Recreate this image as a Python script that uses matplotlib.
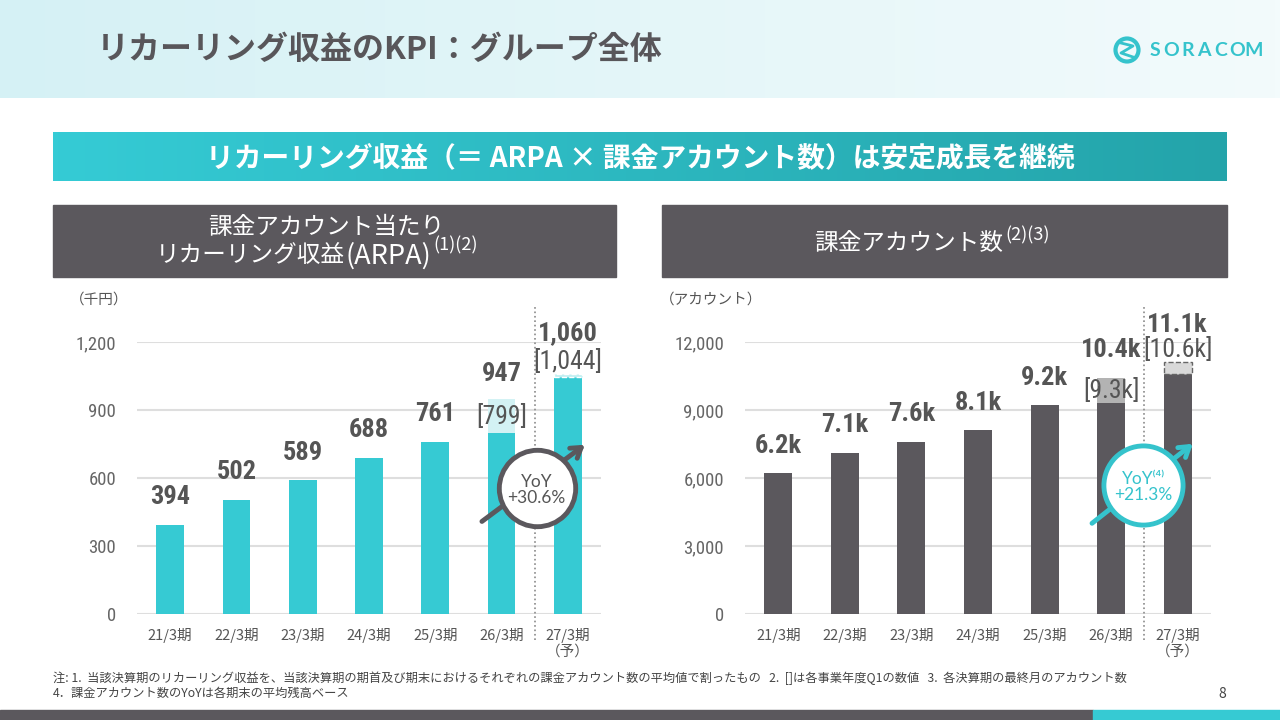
import os
import numpy as np
import matplotlib
matplotlib.use("Agg")
import matplotlib.pyplot as plt
from matplotlib import font_manager as fm
from matplotlib.patches import Rectangle, Circle

# ---- data ----
periods = ["21/3期", "22/3期", "23/3期", "24/3期", "25/3期", "26/3期", "27/3期\n（予）"]
arpa = [394, 502, 589, 688, 761, 947, 1060]            # 千円, fiscal year
arpa_q1 = [None, None, None, None, None, 799, 1044]     # Q1 value in brackets
arpa_text = ["394", "502", "589", "688", "761", "947", "1,060"]
arpa_q1_text = [None, None, None, None, None, "[799]", "[1,044]"]
accounts = [6200, 7100, 7600, 8100, 9200, 10400, 11100]
accounts_q1 = [None, None, None, None, None, 9300, 10600]
accounts_text = ["6.2k", "7.1k", "7.6k", "8.1k", "9.2k", "10.4k", "11.1k"]
accounts_q1_text = [None, None, None, None, None, "[9.3k]", "[10.6k]"]
arpa_ticks = [0, 300, 600, 900, 1200]
acct_ticks = [0, 3000, 6000, 9000, 12000]
yoy_arpa = "YoY\n+30.6%"
yoy_acct = "YoY⁽⁴⁾\n+21.3%"

TEAL = "#36cad3"
TEAL_LT = "#d3f2f4"
DARK = "#5b585d"
GRAY_LT = "#b3b3b3"
TXT = "#555555"
CYAN_TXT = "#35c3cc"

JP = ["Noto Sans CJK JP", "DejaVu Sans"]
plt.rcParams["font.family"] = JP

# condensed font for the numbers, whichever is installed
STRETCH_RANK = {"condensed": 0, "semi-condensed": 1, "extra-condensed": 2}
FAM_ORDER = ["Roboto Condensed", "Liberation Sans Narrow", "Noto Sans", "Roboto", "Open Sans", "DejaVu Sans"]


def _w(f):
    w = f.weight
    return fm.weight_dict.get(w, 400) if isinstance(w, str) else int(w)


cands = []
for f in fm.fontManager.ttflist:
    if f.style != "normal":
        continue
    base = os.path.basename(f.fname)
    st = f.stretch if isinstance(f.stretch, str) else "normal"
    if "Narrow" in base or "Narrow" in f.name:
        st = "condensed"
    elif "ExtraCondensed" in base:
        st = "extra-condensed"
    elif "SemiCondensed" in base:
        st = "semi-condensed"
    elif "Condensed" in base or "Condensed" in f.name:
        st = "condensed"
    if st in STRETCH_RANK:
        cands.append((f, st))


def numfont(size, weight=400):
    if not cands:
        return fm.FontProperties(family="DejaVu Sans", size=size, weight=weight)

    def key(c):
        f, st = c
        fo = FAM_ORDER.index(f.name) if f.name in FAM_ORDER else len(FAM_ORDER)
        return (STRETCH_RANK[st], fo, abs(_w(f) - weight))
    f = sorted(cands, key=key)[0][0]
    return fm.FontProperties(fname=f.fname, size=size)


W, H = 1280, 720
fig = plt.figure(figsize=(12.8, 7.2), dpi=100)
renderer = fig.canvas.get_renderer()

# background layer in pixel coordinates
bg = fig.add_axes([0, 0, 1, 1])
bg.set_zorder(0)

grad = np.linspace(0, 1, 256).reshape(1, -1)
top_cmap = matplotlib.colors.LinearSegmentedColormap.from_list("top", ["#d5f1f5", "#f3fbfc"])
bg.imshow(grad, extent=(0, W, 98, 0), cmap=top_cmap, aspect="auto")
ban_cmap = matplotlib.colors.LinearSegmentedColormap.from_list("ban", ["#35cbd5", "#24a4aa"])
bg.imshow(grad, extent=(53, 1227, 181, 132), cmap=ban_cmap, aspect="auto")
bg.set_xlim(0, W)
bg.set_ylim(H, 0)
bg.axis("off")

bg.text(97, 50, "リカーリング収益のKPI：グループ全体", fontsize=23, fontweight="bold",
        color="#58565a", va="center", ha="left")
# logo
bg.add_patch(Circle((1127, 50), 11.5, fill=False, ec=CYAN_TXT, lw=3))
bg.plot([1121, 1133, 1121, 1133], [43, 46, 53, 57], color=CYAN_TXT, lw=2)
for i, ch in enumerate("SORACOM"):
    bg.text(1155 + i * 16.4, 50, ch, fontsize=14, fontweight="bold", color=CYAN_TXT,
            va="center", ha="center", family=["Lato", "DejaVu Sans"])

bg.text(640, 158, "リカーリング収益（＝ ARPA × 課金アカウント数）は安定成長を継続",
        fontsize=20, fontweight="bold", color="white", ha="center", va="center")

# panel headers
bg.add_patch(Rectangle((53, 205), 563, 72, color=DARK))
bg.add_patch(Rectangle((662, 205), 565, 72, color=DARK))
bg.text(326, 228, "課金アカウント当たり", fontsize=17, color="white", ha="center", va="center")
bg.text(345, 256, "リカーリング収益", fontsize=17, color="white", ha="right", va="center")
t_arpa = bg.text(346, 256, "(ARPA)", fontsize=19.5, color="white", ha="left", va="center")
x_end = t_arpa.get_window_extent(renderer).x1
bg.text(x_end + 2, 245, "(1)(2)", fontsize=13, color="white", ha="left", va="center")
bg.text(1003, 243, "課金アカウント数", fontsize=17, color="white", ha="right", va="center")
bg.text(1005, 235, "(2)(3)", fontsize=13, color="white", ha="left", va="center")

bg.text(70, 300, "（千円）", fontsize=10.5, color=TXT, va="center", ha="left")
bg.text(660, 300, "（アカウント）", fontsize=10.5, color=TXT, va="center", ha="left")

bg.text(53, 678, "注: 1.  当該決算期のリカーリング収益を、当該決算期の期首及び期末におけるそれぞれの課金アカウント数の平均値で割ったもの   "
        "2.  []は各事業年度Q1の数値   3.  各決算期の最終月のアカウント数",
        fontsize=8.8, color="#444444", va="center", ha="left")
bg.text(53, 693, "4．課金アカウント数のYoYは各期末の平均残高ベース",
        fontsize=8.8, color="#444444", va="center", ha="left")
bg.text(1222, 694, "8", fontsize=10, color="#444444", va="center", ha="center")
bg.add_patch(Rectangle((0, 710), 1093, 10, color=DARK))
bg.add_patch(Rectangle((1093, 710), 187, 10, color=TEAL))


def make_axes(x0, x1, ymax, ticks):
    ax = fig.add_axes([x0 / W, (H - 614) / H, (x1 - x0) / W, 272 / H])
    ax.set_zorder(2)
    ax.patch.set_alpha(0)
    ax.set_xlim(-0.5, 6.5)
    ax.set_ylim(0, ymax)
    ax.set_yticks(ticks)
    ax.set_yticklabels([f"{t:,}" for t in ticks], fontproperties=numfont(13.5), color="#666666")
    ax.set_xticks(range(len(periods)))
    ax.set_xticklabels(periods, fontsize=10.5, color=TXT, linespacing=1.2)
    ax.tick_params(axis="y", length=0, pad=15)
    ax.tick_params(axis="x", length=0, pad=10)
    for s in ax.spines.values():
        s.set_visible(False)
    ax.grid(axis="y", color="#dedede", lw=1.5)
    ax.set_axisbelow(True)
    return ax


def label(ax, txt, xy, dy, bold=True, **kw):
    fp = numfont(19, 600) if bold else numfont(18.5)
    ax.annotate(txt, xy, xytext=(0, dy), textcoords="offset points", ha="center",
                va="center", color=TXT, fontproperties=fp, annotation_clip=False, **kw)


x = np.arange(len(periods))
bw = 0.42

# ---- left: ARPA ----
axL = make_axes(137, 601, 1200, arpa_ticks)
base = [q if q is not None else v for v, q in zip(arpa, arpa_q1)]
axL.bar(x, base, width=bw, color=TEAL, zorder=2)
axL.bar(x[5], arpa[5] - arpa_q1[5], bottom=arpa_q1[5], width=bw, color=TEAL_LT, zorder=2)
axL.bar(x[6], arpa[6] - arpa_q1[6], bottom=arpa_q1[6], width=bw, fc="#bdeef1",
        ec="white", ls="--", lw=1, zorder=2)
for i in range(5):
    label(axL, arpa_text[i], (x[i], arpa[i]), 20)
label(axL, arpa_text[5], (x[5], arpa[5]), 18)
label(axL, arpa_q1_text[5], (x[5], (arpa[5] + arpa_q1[5]) / 2), 0, bold=False)
label(axL, arpa_text[6], (x[6], arpa[6]), 29)
label(axL, arpa_q1_text[6], (x[6], arpa[6]), 8.5, bold=False)
axL.plot([5.5, 5.5], [-115, 1365], ls=":", color="#8a8a8a", lw=1.2, clip_on=False, zorder=1)

axL.annotate("", xy=(6.29, 754), xytext=(4.67, 401),
             arrowprops=dict(arrowstyle="->,head_length=0.7,head_width=0.45", lw=3.5,
                             color=DARK), zorder=5, annotation_clip=False)
axL.plot([5.53], [556], "o", ms=55, mfc="white", mec=DARK, mew=3.5, zorder=6, clip_on=False)
axL.text(5.53, 548, yoy_arpa, ha="center", va="center", fontsize=12.5, color=TXT,
         zorder=7, linespacing=1.0, family=["Lato", "DejaVu Sans"])

# ---- right: accounts ----
axR = make_axes(745, 1211, 12000, acct_ticks)
base = [q if q is not None else v for v, q in zip(accounts, accounts_q1)]
axR.bar(x, base, width=bw, color=DARK, zorder=2)
axR.bar(x[5], accounts[5] - accounts_q1[5], bottom=accounts_q1[5], width=bw, color=GRAY_LT, zorder=2)
axR.bar(x[6], accounts[6] - accounts_q1[6], bottom=accounts_q1[6], width=bw, fc="#d9d9d9",
        ec="#666666", ls="--", lw=1, zorder=2)
for i in range(6):
    label(axR, accounts_text[i], (x[i], accounts[i]), 20)
label(axR, accounts_q1_text[5], (x[5], (accounts[5] + accounts_q1[5]) / 2), 0, bold=False, zorder=4)
label(axR, accounts_text[6], (x[6], accounts[6]), 27)
label(axR, accounts_q1_text[6], (x[6], accounts[6]), 9, bold=False)
axR.plot([5.5, 5.5], [-1150, 13650], ls=":", color="#8a8a8a", lw=1.2, clip_on=False, zorder=1)

axR.annotate("", xy=(6.26, 7587), xytext=(4.68, 3926),
             arrowprops=dict(arrowstyle="->,head_length=0.7,head_width=0.45", lw=3.5,
                             color=CYAN_TXT), zorder=5, annotation_clip=False)
axR.plot([5.48], [5690], "o", ms=57, mfc="white", mec=CYAN_TXT, mew=3.5, zorder=6, clip_on=False)
axR.text(5.48, 5600, yoy_acct, ha="center", va="center", fontsize=12.5, color=CYAN_TXT,
         zorder=7, linespacing=1.0, family=["Lato", "DejaVu Sans"])

fig.savefig("out.png", dpi=100)
